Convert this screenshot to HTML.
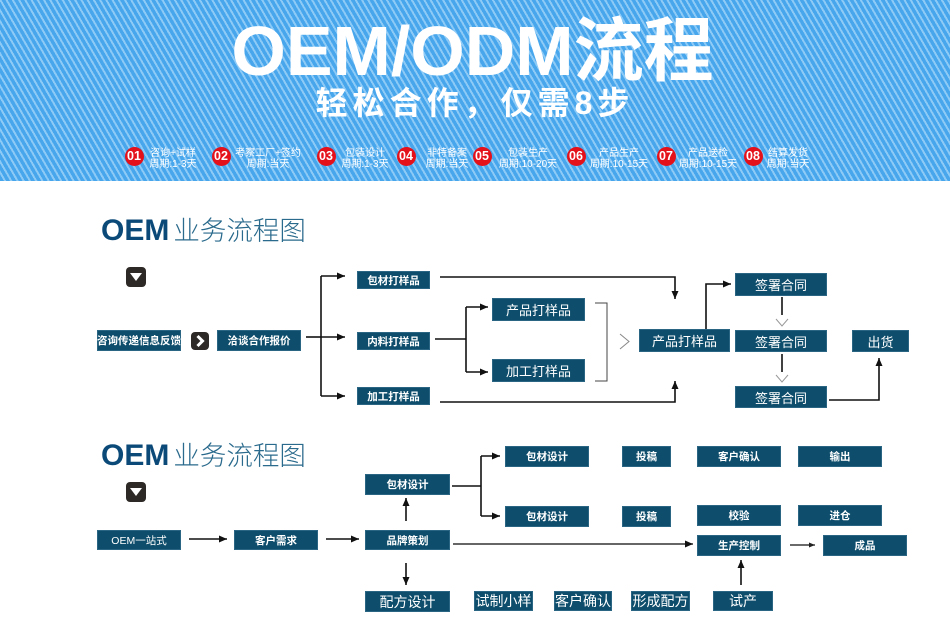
<!DOCTYPE html>
<html><head><meta charset="utf-8">
<style>
*{margin:0;padding:0;box-sizing:border-box}
body{width:950px;height:634px;background:#fff;position:relative;overflow:hidden;font-family:"Liberation Sans","Noto Sans CJK SC",sans-serif}
.hdr{position:absolute;left:0;top:0;width:950px;height:181px;background-color:#47a6ec;background-image:repeating-linear-gradient(60deg,rgba(255,255,255,0) 0 3.4px,rgba(200,232,255,0.55) 3.4px 5.4px)}
.t1{position:absolute;left:190px;width:565px;top:16px;text-align:center;color:#fff;font-weight:bold;font-size:70px;line-height:70px;white-space:nowrap}
.t2{position:absolute;left:240px;width:470px;top:86px;text-align:center;color:#fff;font-weight:bold;font-size:32px;line-height:34px;letter-spacing:5px;white-space:nowrap}
.c{position:absolute;width:19px;height:19px;border-radius:50%;background:#e4101a;color:#fff;font-weight:bold;font-size:12.5px;line-height:19px;text-align:center;top:146.5px}
.st{position:absolute;width:90px;top:147.5px;text-align:center;color:#fff;font-size:10px;line-height:11px;white-space:nowrap}
.b{position:absolute;background:#0e4e6c;color:#fff;display:flex;align-items:center;justify-content:center;font-weight:bold;font-size:10.5px;white-space:nowrap;border:1px solid #2a6683}
.m{font-size:13px;font-weight:normal}
.l{font-size:14px;font-weight:normal}
.ti{position:absolute;left:101px;white-space:nowrap;height:32px}
.ti .o{font-size:30px;font-weight:bold;color:#0b4a78;line-height:30px;vertical-align:top}
.ti .z{font-size:26.5px;font-weight:300;color:#2a6a8c;line-height:30px;vertical-align:top;margin-left:4px}
.dd{position:absolute;width:20px;height:20px;border-radius:4px;background:#2d2926}
</style></head><body>
<div class="hdr"></div>
<div class="t1">OEM/ODM流程</div>
<div class="t2">轻松合作，仅需8步</div>

<div class="c" style="left:124.5px">01</div><div class="st" style="left:128px">咨询+试样<br>周期:1-3天</div>
<div class="c" style="left:211.5px">02</div><div class="st" style="left:223px">考察工厂+签约<br>周期:当天</div>
<div class="c" style="left:316.5px">03</div><div class="st" style="left:320px">包装设计<br>周期:1-3天</div>
<div class="c" style="left:396.5px">04</div><div class="st" style="left:402px">非特备案<br>周期:当天</div>
<div class="c" style="left:472.5px">05</div><div class="st" style="left:483px">包装生产<br>周期:10-20天</div>
<div class="c" style="left:566.5px">06</div><div class="st" style="left:574px">产品生产<br>周期:10-15天</div>
<div class="c" style="left:656.5px">07</div><div class="st" style="left:663px">产品送检<br>周期:10-15天</div>
<div class="c" style="left:743.5px">08</div><div class="st" style="left:743px">结算发货<br>周期:当天</div>

<!-- Section 1 -->
<div class="ti" style="top:216px"><span class="o">OEM</span><span class="z">业务流程图</span></div>
<div class="dd" style="left:126px;top:267px"><svg width="20" height="20"><polygon points="4,6 16,6 10,14" fill="#fff"/></svg></div>
<div class="b" style="left:97px;top:330px;width:84px;height:21px">咨询传递信息反馈</div>
<div class="dd" style="left:191px;top:332px;width:18px;height:18px"><svg width="18" height="18"><polyline points="6.5,4 11.5,9 6.5,14" fill="none" stroke="#fff" stroke-width="3"/></svg></div>
<div class="b" style="left:217px;top:330px;width:84px;height:21px">洽谈合作报价</div>
<div class="b" style="left:357px;top:271px;width:73px;height:18px">包材打样品</div>
<div class="b" style="left:357px;top:332px;width:73px;height:18px">内料打样品</div>
<div class="b" style="left:357px;top:387px;width:73px;height:18px">加工打样品</div>
<div class="b m" style="left:492px;top:298px;width:93px;height:23px">产品打样品</div>
<div class="b m" style="left:492px;top:359px;width:93px;height:23px">加工打样品</div>
<div class="b m" style="left:639px;top:329px;width:91px;height:23px">产品打样品</div>
<div class="b m" style="left:735px;top:273px;width:92px;height:23px">签署合同</div>
<div class="b m" style="left:735px;top:330px;width:92px;height:22px">签署合同</div>
<div class="b m" style="left:735px;top:386px;width:92px;height:22px">签署合同</div>
<div class="b m" style="left:852px;top:330px;width:57px;height:22px">出货</div>

<!-- Section 2 -->
<div class="ti" style="top:441px"><span class="o">OEM</span><span class="z">业务流程图</span></div>
<div class="dd" style="left:126px;top:482px"><svg width="20" height="20"><polygon points="4,6 16,6 10,14" fill="#fff"/></svg></div>
<div class="b" style="left:97px;top:530px;width:84px;height:20px;font-weight:normal">OEM一站式</div>
<div class="b" style="left:234px;top:530px;width:84px;height:20px">客户需求</div>
<div class="b" style="left:365px;top:530px;width:85px;height:20px">品牌策划</div>
<div class="b" style="left:365px;top:474px;width:85px;height:21px">包材设计</div>
<div class="b l" style="left:365px;top:591px;width:85px;height:21px">配方设计</div>
<div class="b" style="left:505px;top:446px;width:84px;height:21px">包材设计</div>
<div class="b" style="left:622px;top:446px;width:49px;height:21px">投稿</div>
<div class="b" style="left:697px;top:446px;width:84px;height:21px">客户确认</div>
<div class="b" style="left:798px;top:446px;width:84px;height:21px">输出</div>
<div class="b" style="left:505px;top:506px;width:84px;height:21px">包材设计</div>
<div class="b" style="left:622px;top:506px;width:49px;height:21px">投稿</div>
<div class="b" style="left:697px;top:505px;width:84px;height:21px">校验</div>
<div class="b" style="left:798px;top:505px;width:84px;height:21px">进仓</div>
<div class="b" style="left:697px;top:535px;width:84px;height:21px">生产控制</div>
<div class="b" style="left:823px;top:535px;width:84px;height:21px">成品</div>
<div class="b l" style="left:474px;top:591px;width:59px;height:20px">试制小样</div>
<div class="b l" style="left:554px;top:591px;width:58px;height:20px">客户确认</div>
<div class="b l" style="left:631px;top:591px;width:59px;height:20px">形成配方</div>
<div class="b l" style="left:713px;top:591px;width:60px;height:20px">试产</div>

<svg style="position:absolute;left:0;top:0" width="950" height="634">
<defs>
<marker id="a" markerUnits="userSpaceOnUse" markerWidth="9" markerHeight="8" refX="8" refY="4" orient="auto"><path d="M0,0.5 L8,4 L0,7.5 z" fill="#111"/></marker>
<marker id="s" markerUnits="userSpaceOnUse" markerWidth="7" markerHeight="6" refX="6" refY="3" orient="auto"><path d="M0,0.5 L6,3 L0,5.5 z" fill="#222"/></marker>
</defs>
<g fill="none" stroke="#111" stroke-width="1.6">
<line x1="306" y1="337" x2="321" y2="337"/>
<line x1="321" y1="276" x2="321" y2="396"/>
<line x1="321" y1="276" x2="345" y2="276" marker-end="url(#a)"/>
<line x1="321" y1="337" x2="345" y2="337" marker-end="url(#a)"/>
<line x1="321" y1="396" x2="345" y2="396" marker-end="url(#a)"/>
<polyline points="440,277 675,277 675,299" marker-end="url(#a)"/>
<polyline points="440,402 675,402 675,381" marker-end="url(#a)"/>
<line x1="435" y1="339" x2="466" y2="339"/>
<line x1="466" y1="307" x2="466" y2="372"/>
<line x1="466" y1="307" x2="488" y2="307" marker-end="url(#a)"/>
<line x1="466" y1="372" x2="488" y2="372" marker-end="url(#a)"/>
<polyline points="706,329 706,284 731,284" marker-end="url(#a)"/>
<line x1="782" y1="297" x2="782" y2="315"/>
<line x1="782" y1="354" x2="782" y2="372"/>
<polyline points="829,400 879,400 879,358" marker-end="url(#a)"/>
<line x1="189" y1="539" x2="227" y2="539" marker-end="url(#a)"/>
<line x1="326" y1="539" x2="359" y2="539" marker-end="url(#a)"/>
<line x1="406" y1="521" x2="406" y2="498" marker-end="url(#a)"/>
<line x1="406" y1="563" x2="406" y2="585" marker-end="url(#a)"/>
<line x1="452" y1="486" x2="481" y2="486"/>
<line x1="481" y1="456" x2="481" y2="516"/>
<line x1="481" y1="456" x2="500" y2="456" marker-end="url(#a)"/>
<line x1="481" y1="516" x2="500" y2="516" marker-end="url(#a)"/>
<line x1="453" y1="544" x2="693" y2="544" stroke="#333" marker-end="url(#a)"/>
<line x1="790" y1="545" x2="815" y2="545" stroke-width="1.2" marker-end="url(#s)"/>
<line x1="741" y1="585" x2="741" y2="560" marker-end="url(#a)"/>
</g>
<g fill="none" stroke="#666" stroke-width="1">
<polyline points="595,303 607,303 607,381 595,381" stroke="#444"/>
<polyline points="620,334 629,341.5 620,349" stroke="#888"/>
<polyline points="776,319 782,326 788,319" stroke="#999"/>
<polyline points="776,375 782,382 788,375" stroke="#999"/>
</g>
</svg>
</body></html>
